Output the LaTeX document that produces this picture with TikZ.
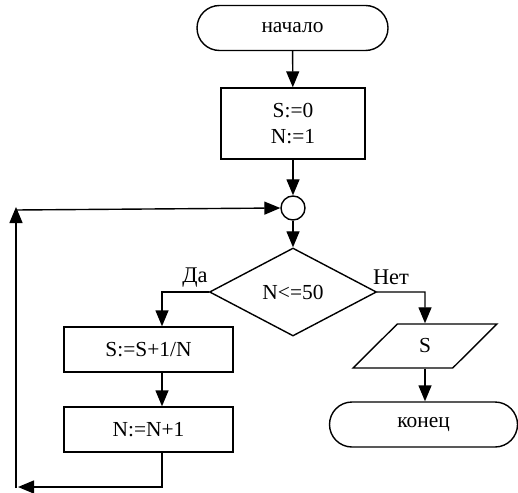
\documentclass[tikz,border=0pt]{standalone}
\usepackage{fontspec}
\setmainfont{Liberation Serif}
\usetikzlibrary{arrows.meta,shapes.geometric,shapes.misc}
\begin{document}
\begin{tikzpicture}[x=1bp,y=-1bp,
  every node/.style={font=\fontsize{21.5}{26}\selectfont},
  base/.style={draw,line width=1.4bp,inner sep=0pt},
  term/.style={base,rounded rectangle,minimum width=#1,minimum height=45bp},
  proc/.style={base,rectangle,minimum width=#1,minimum height=45bp},
  mergept/.style={base,circle,minimum size=24bp},
  cond/.style={base,diamond,aspect=1.9,minimum width=167bp,minimum height=88bp},
  io/.style={base,trapezium,trapezium left angle=56.6,trapezium right angle=123.4,
    trapezium stretches=true,minimum width=144bp,minimum height=44bp},
  branchlabel/.style={font=\fontsize{22.5}{26}\selectfont},
  flow/.style={line width=1.4bp,-{Triangle[width=13bp,length=16bp]}}]
\useasboundingbox (0,0) rectangle (518,493);

% blocks
\node[term=191bp] (start) at (292.5,28) {начало};
\node[proc=144bp,minimum height=71bp,align=center] (init) at (293,123.5) {S:=0\\N:=1};
\node[mergept] (merge) at (293,208) {};
\node[cond] (test) at (293,292) {N<=50};
\node[proc=169bp] (add) at (148.5,349.5) {S:=S+1/N};
\node[proc=169bp] (inc) at (148.5,429.5) {N:=N+1};
\node[io] (out) at (425,346) {S};
\node[term=188bp] (stop) at (423.5,424.5) {конец};

% branch labels
\node[branchlabel] (yes) at (195,278) {Да};
\node[branchlabel] (no) at (391,277) {Нет};

% routing points
\coordinate (ycorner) at (162,292);
\coordinate (ncorner) at (425,292);
\coordinate (lbottom) at (162,487);
\coordinate (lend) at (18,487);
\coordinate (lfoot) at (16,488);
\coordinate (ltop) at (16,207);
\coordinate (lturn) at (16,210);

% main flow
\draw[flow] (start) -- (init);
\draw[flow] (init) -- (merge);
\draw[flow] (merge) -- (test);

% loop body
\draw[flow] (test.west) -- (ycorner) -- (ycorner |- add.north);
\draw[flow] (ycorner |- add.south) -- (ycorner |- inc.north);
\draw[flow] (ycorner |- inc.south) -- (lbottom) -- (lend);
\draw[flow] (lfoot) -- (ltop);
\draw[flow] (lturn) -- (merge.west);

% exit
\draw[flow] (test.east) -- (ncorner) -- (out.north);
\draw[flow] (out.south) -- (out.south |- stop.north);
\end{tikzpicture}
\end{document}
